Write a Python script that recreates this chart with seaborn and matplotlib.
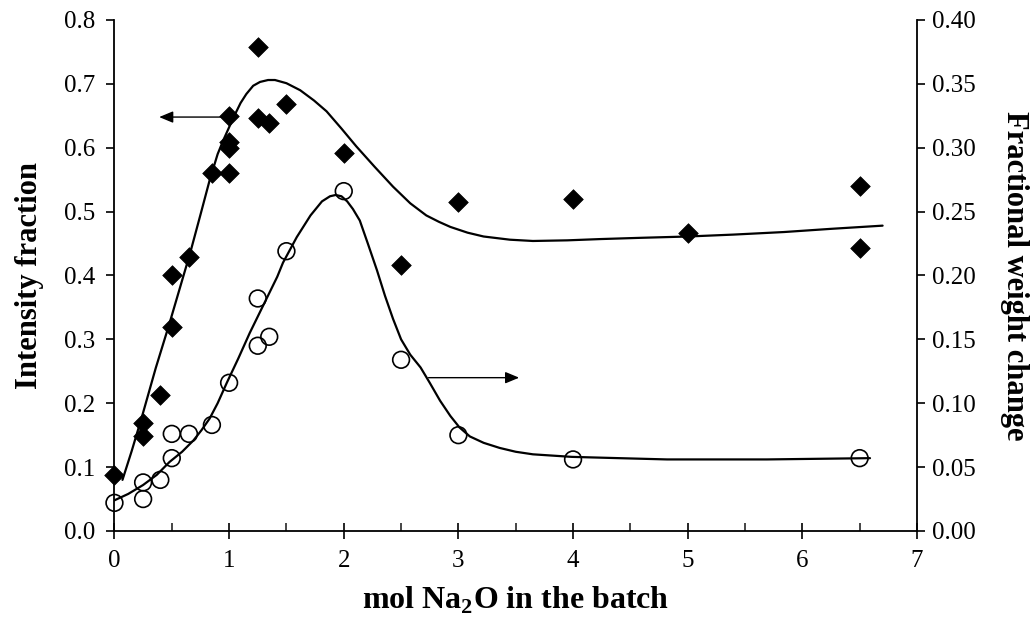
import numpy as np
import pandas as pd
import matplotlib
matplotlib.use("Agg")
import matplotlib.pyplot as plt
import seaborn as sns
from matplotlib.ticker import MultipleLocator, FormatStrFormatter

# ---------------- data ----------------
# Intensity fraction (left axis), filled diamonds
int_x = [0, 0.25, 0.25, 0.4, 0.5, 0.5, 0.65, 0.85, 1.0, 1.0, 1.0, 1.0,
         1.25, 1.25, 1.35, 1.5, 2.0, 2.5, 3.0, 4.0, 5.0, 6.5, 6.5]
int_y = [0.088, 0.169, 0.148, 0.213, 0.319, 0.400, 0.429, 0.561, 0.561, 0.599, 0.609, 0.649,
         0.757, 0.647, 0.638, 0.669, 0.591, 0.416, 0.515, 0.520, 0.466, 0.540, 0.443]

# Fractional weight change (right axis), open circles
wt_x = [0, 0.25, 0.25, 0.4, 0.5, 0.5, 0.65, 0.85, 1.0, 1.25, 1.25, 1.35, 1.5,
        2.0, 2.5, 3.0, 4.0, 6.5]
wt_y = [0.022, 0.038, 0.025, 0.040, 0.057, 0.076, 0.076, 0.083, 0.116, 0.182, 0.145, 0.152, 0.219,
        0.266, 0.134, 0.075, 0.056, 0.057]

# Smoothed trend curves
fit_int_x = [0.07, 0.15, 0.24, 0.36, 0.48, 0.57, 0.66, 0.75, 0.83, 0.90, 0.95, 1.00, 1.04,
             1.10, 1.15, 1.21, 1.27, 1.34, 1.40, 1.50, 1.62, 1.74, 1.85, 1.98, 2.11, 2.27,
             2.43, 2.58, 2.72, 2.83, 2.93, 3.08, 3.22, 3.45, 3.65, 3.95, 4.24, 4.60, 5.00,
             5.40, 5.84, 6.25, 6.70]
fit_int_y = [0.080, 0.125, 0.179, 0.255, 0.325, 0.380, 0.435, 0.495, 0.549, 0.590, 0.612, 0.632,
             0.648, 0.670, 0.684, 0.697, 0.703, 0.706, 0.706, 0.701, 0.690, 0.674, 0.657, 0.630,
             0.602, 0.570, 0.539, 0.513, 0.494, 0.484, 0.476, 0.467, 0.461, 0.456, 0.454, 0.455,
             0.457, 0.459, 0.461, 0.464, 0.468, 0.473, 0.478]

fit_wt_x = [0.0, 0.12, 0.25, 0.37, 0.48, 0.59, 0.69, 0.76, 0.83, 0.90, 0.98, 1.08, 1.18,
            1.30, 1.42, 1.47, 1.59, 1.71, 1.81, 1.88, 1.93, 1.98, 2.03, 2.08, 2.14, 2.21,
            2.29, 2.36, 2.43, 2.50, 2.58, 2.67, 2.75, 2.84, 2.93, 3.01, 3.10, 3.22, 3.36,
            3.50, 3.65, 3.99, 4.40, 4.82, 5.69, 6.59]
fit_wt_y = [0.024, 0.029, 0.036, 0.044, 0.054, 0.062, 0.071, 0.079, 0.088, 0.100, 0.116, 0.135,
            0.155, 0.177, 0.199, 0.210, 0.230, 0.247, 0.258, 0.262, 0.263, 0.262, 0.258, 0.252,
            0.243, 0.225, 0.204, 0.184, 0.166, 0.150, 0.138, 0.128, 0.116, 0.102, 0.090, 0.081,
            0.074, 0.069, 0.065, 0.062, 0.060, 0.058, 0.057, 0.056, 0.056, 0.057]

x_ticks = [0, 1, 2, 3, 4, 5, 6, 7]

# ---------------- style ----------------
sns.set_theme(style="ticks")
plt.rcParams["font.family"] = ["Liberation Serif", "DejaVu Serif"]
plt.rcParams["mathtext.fontset"] = "custom"
plt.rcParams["mathtext.rm"] = "Liberation Serif"
plt.rcParams["mathtext.bf"] = "Liberation Serif:bold"
plt.rcParams["axes.linewidth"] = 1.3

fig = plt.figure(figsize=(10.33, 6.26), dpi=100)
ax = fig.add_axes([0.1108, 0.1518, 0.7769, 0.8163])
ax2 = ax.twinx()

df_int = pd.DataFrame({"x": int_x, "y": int_y})
df_wt = pd.DataFrame({"x": wt_x, "y": wt_y})
df_fi = pd.DataFrame({"x": fit_int_x, "y": fit_int_y})
df_fw = pd.DataFrame({"x": fit_wt_x, "y": fit_wt_y})

sns.lineplot(data=df_fi, x="x", y="y", ax=ax, color="black", lw=1.6,
             sort=False, estimator=None, zorder=2)
sns.scatterplot(data=df_int, x="x", y="y", ax=ax, marker="D", s=100,
                color="black", edgecolor="black", linewidth=0.5, zorder=3,
                clip_on=False)

sns.lineplot(data=df_fw, x="x", y="y", ax=ax2, color="black", lw=1.6,
             sort=False, estimator=None, zorder=2)
sns.scatterplot(data=df_wt, x="x", y="y", ax=ax2, marker="o", s=145,
                facecolor="none", edgecolor="black", linewidth=1.2, zorder=3,
                clip_on=False)

# arrows
ax.annotate("", xy=(0.39, 0.648), xytext=(0.95, 0.648),
            arrowprops=dict(arrowstyle="-|>,head_length=0.6,head_width=0.25",
                            color="black", lw=1.0,
                            mutation_scale=14, shrinkA=0, shrinkB=0))
ax2.annotate("", xy=(3.53, 0.120), xytext=(2.74, 0.120),
             arrowprops=dict(arrowstyle="-|>,head_length=0.6,head_width=0.25",
                             color="black", lw=1.0,
                             mutation_scale=14, shrinkA=0, shrinkB=0))

# axes limits / ticks
ax.set_xlim(0, 7)
ax.set_ylim(0, 0.8)
ax2.set_ylim(0, 0.4)
ax.set_xticks(x_ticks)
ax.xaxis.set_minor_locator(MultipleLocator(0.5))
ax.yaxis.set_major_locator(MultipleLocator(0.1))
ax2.yaxis.set_major_locator(MultipleLocator(0.05))
ax.yaxis.set_major_formatter(FormatStrFormatter("%.1f"))
ax2.yaxis.set_major_formatter(FormatStrFormatter("%.2f"))

ax.tick_params(axis="x", which="major", direction="inout", length=12, width=1.2,
               labelsize=18, pad=8, colors="black")
ax.tick_params(axis="x", which="minor", direction="in", length=6, width=1.2)
ax.tick_params(axis="y", which="major", direction="out", length=6, width=1.2,
               labelsize=18, pad=8, colors="black")
ax2.tick_params(axis="y", which="major", direction="out", length=6, width=1.2,
                labelsize=18, pad=5, colors="black")

for a in (ax, ax2):
    a.spines["top"].set_visible(False)
    for s in ("left", "right", "bottom"):
        a.spines[s].set_color("black")
ax.spines["right"].set_visible(False)
ax2.spines["left"].set_visible(False)
ax2.spines["bottom"].set_visible(False)

ax.set_xlabel(r"mol Na$_{\mathbf{2}}$O in the batch", fontsize=23,
              fontweight="bold", labelpad=9, color="black")
ax.set_ylabel("Intensity fraction", fontsize=22, fontweight="bold",
              labelpad=14, color="black")
ax2.set_ylabel("Fractional weight change", fontsize=22, fontweight="bold",
               rotation=270, labelpad=38, color="black")

fig.savefig("out.png", dpi=100)
